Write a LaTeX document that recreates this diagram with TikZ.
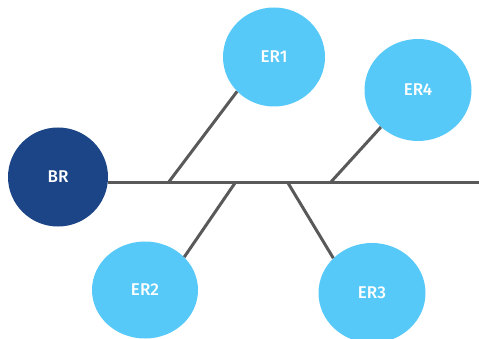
\documentclass[tikz,border=0pt]{standalone}
\usepackage{fontspec}
\setmainfont{Fira Sans}[BoldFont={Fira Sans Medium}]
\usetikzlibrary{shapes.geometric}
\definecolor{hubblue}{HTML}{1B4586}
\definecolor{leafblue}{HTML}{56C9F9}
\definecolor{wire}{HTML}{595959}
\tikzset{
  hub/.style={ellipse, fill=hubblue, text=white, inner sep=0pt,
    font=\fontsize{17}{19}\selectfont\bfseries},
  leaf/.style={ellipse, fill=leafblue, text=white, inner sep=0pt,
    font=\fontsize{17}{19}\selectfont\bfseries},
  link/.style={draw=wire, line width=3pt},
}
\begin{document}
\begin{tikzpicture}[x=1pt, y=-1pt]
\useasboundingbox (0,0) rectangle (479,339);
% routers
\node[hub, minimum width=100pt, minimum height=99pt] (br) at (58,177) {BR};
\node[leaf, minimum width=102pt, minimum height=99pt] (er1) at (274,57) {ER1};
\node[leaf, minimum width=106pt, minimum height=97pt] (er2) at (145,290) {ER2};
\node[leaf, minimum width=107pt, minimum height=100pt] (er3) at (372,293) {ER3};
\node[leaf, minimum width=107pt, minimum height=102pt] (er4) at (418,90) {ER4};
% backbone and its taps
\coordinate (tail) at (479,183);
\coordinate (j1) at (168,183);
\coordinate (j2) at (235,183);
\coordinate (j3) at (288,183);
\coordinate (j4) at (330,183);
\draw[link] (br.east |- tail) -- (tail);
\draw[link] (j1) -- (er1.223);
\draw[link] (j2) -- (er2.40);
\draw[link] (j3) -- (er3.138);
\draw[link] (j4) -- (er4.225);
\end{tikzpicture}
\end{document}
